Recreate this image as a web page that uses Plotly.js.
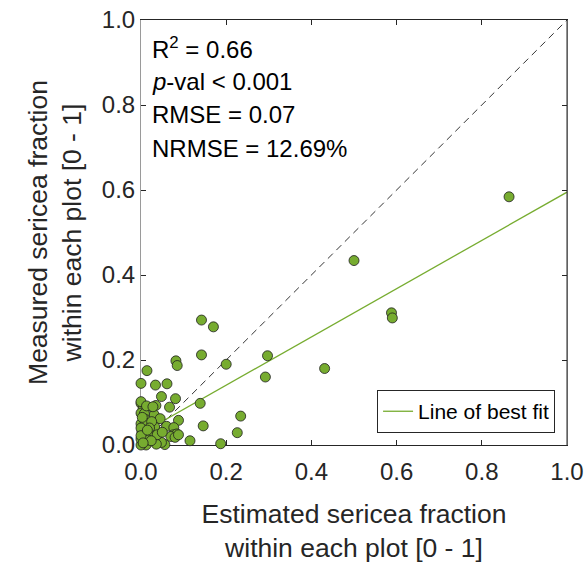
<!DOCTYPE html>
<html>
<head>
<meta charset="utf-8">
<script src="https://cdn.plot.ly/plotly-3.0.1.min.js"></script>
<style>
  html, body { margin: 0; padding: 0; background: #ffffff; }
  #chart { width: 587px; height: 566px; }
</style>
</head>
<body>
<div id="chart"></div>
<script>
// Estimated vs. measured sericea fraction per plot
const estimated = [
  0.864, 0.500, 0.588, 0.590, 0.431, 0.297, 0.292, 0.142, 0.170, 0.142,
  0.200, 0.082, 0.085, 0.234, 0.226, 0.187, 0.139, 0.146, 0.115,
  0.014, 0.000, 0.034, 0.061, 0.048, 0.081, 0.067, 0.035, 0.012, 0.000,
  0.005, 0.031, 0.088, 0.060, 0.077, 0.032, 0.076, 0.084, 0.070, 0.080,
  0.088, 0.056, 0.048, 0.036, 0.012, 0.000, 0.002, 0.020, 0.038, 0.000,
  0.017, 0.024, 0.000, 0.008, 0.009, 0.000, 0.010, 0.000, 0.000, 0.005,
  0.000, 0.013, 0.045, 0.025, 0.020, 0.050, 0.028, 0.003, 0.015
];
const measured = [
  0.584, 0.434, 0.311, 0.299, 0.180, 0.210, 0.160, 0.294, 0.278, 0.212,
  0.190, 0.198, 0.187, 0.068, 0.029, 0.003, 0.098, 0.045, 0.010,
  0.175, 0.145, 0.141, 0.144, 0.114, 0.109, 0.089, 0.093, 0.088, 0.098,
  0.086, 0.071, 0.058, 0.044, 0.041, 0.043, 0.024, 0.026, 0.020, 0.018,
  0.024, 0.001, 0.006, 0.002, 0.000, 0.000, 0.031, 0.027, 0.024, 0.014,
  0.012, 0.010, 0.075, 0.074, 0.061, 0.050, 0.052, 0.040, 0.022, 0.005,
  0.102, 0.092, 0.062, 0.055, 0.040, 0.030, 0.090, 0.065, 0.035
];

// Least-squares fit reported for the data
const fitIntercept = 0.027;
const fitSlope = 0.568;
const fitX = [0, 1];
const fitY = fitX.map(x => fitIntercept + fitSlope * x);

// 1:1 reference line
const oneToOne = [0, 1];

const tickVals = [0, 0.2, 0.4, 0.6, 0.8, 1.0];
const tickText = ['0.0', '0.2', '0.4', '0.6', '0.8', '1.0'];

const statLines = [
  'R<sup>2</sup> = 0.66',
  '<i>p</i>-val &lt; 0.001',
  'RMSE = 0.07',
  'NRMSE = 12.69%'
];

const green = '#77AC30';
const ink = '#262626';
const font = 'Liberation Sans, Arial, sans-serif';

const traces = [
  {
    x: oneToOne, y: oneToOne, type: 'scatter', mode: 'lines',
    line: { color: '#000000', width: 0.8, dash: '7px,5px' },
    showlegend: false, hoverinfo: 'skip'
  },
  {
    x: fitX, y: fitY, type: 'scatter', mode: 'lines',
    name: 'Line of best fit',
    line: { color: green, width: 1.3 }
  },
  {
    x: estimated, y: measured, type: 'scatter', mode: 'markers',
    showlegend: false, cliponaxis: false,
    marker: { size: 10, color: green, line: { color: '#1e1e1e', width: 0.8 } }
  }
];

const axisCommon = {
  range: [0, 1],
  tickvals: tickVals,
  ticktext: tickText,
  ticks: 'inside',
  ticklen: 5,
  tickwidth: 1,
  tickcolor: ink,
  showgrid: false,
  zeroline: false,
  showline: true,
  mirror: 'ticks',
  layer: 'below traces',
  tickfont: { family: font, size: 24, color: ink },
  fixedrange: true
};

// stat lines, centred at these pixel heights from the top
const statTop = [48, 81.5, 115, 148.5];
const annotations = statLines.map((t, i) => ({
  text: t, xref: 'paper', yref: 'paper',
  x: 9 / 426, y: 1 - (statTop[i] - 20) / 425,
  xanchor: 'left', yanchor: 'middle', showarrow: false,
  font: { family: font, size: 24, color: '#000000' }
}));

const layout = {
  width: 587, height: 566,
  margin: { l: 141, r: 20, t: 20, b: 121 },
  paper_bgcolor: '#ffffff', plot_bgcolor: '#ffffff',
  font: { family: font, color: ink },
  xaxis: Object.assign({}, axisCommon, {
    linecolor: ink, linewidth: 1,
    ticklabelstandoff: 5,
    title: { text: 'Estimated sericea fraction<br>within each plot [0 - 1]',
             font: { family: font, size: 26.5, color: ink }, standoff: 20 }
  }),
  yaxis: Object.assign({}, axisCommon, {
    linecolor: '#9a9a9a', linewidth: 1,
    title: { text: 'Measured sericea fraction<br>within each plot [0 - 1]',
             font: { family: font, size: 26.5, color: ink }, standoff: 12 }
  }),
  shapes: [
    { type: 'line', xref: 'paper', yref: 'paper', x0: 1, x1: 1, y0: 0, y1: 1,
      line: { color: ink, width: 1 }, layer: 'above' }
  ],
  annotations: annotations,
  legend: {
    x: 0.972, y: 0.028, xanchor: 'right', yanchor: 'bottom',
    bgcolor: '#ffffff', bordercolor: ink, borderwidth: 1,
    font: { family: font, size: 21, color: '#000000' }
  },
  showlegend: true
};

Plotly.newPlot('chart', traces, layout, { displayModeBar: false, staticPlot: true });
</script>
</body>
</html>
